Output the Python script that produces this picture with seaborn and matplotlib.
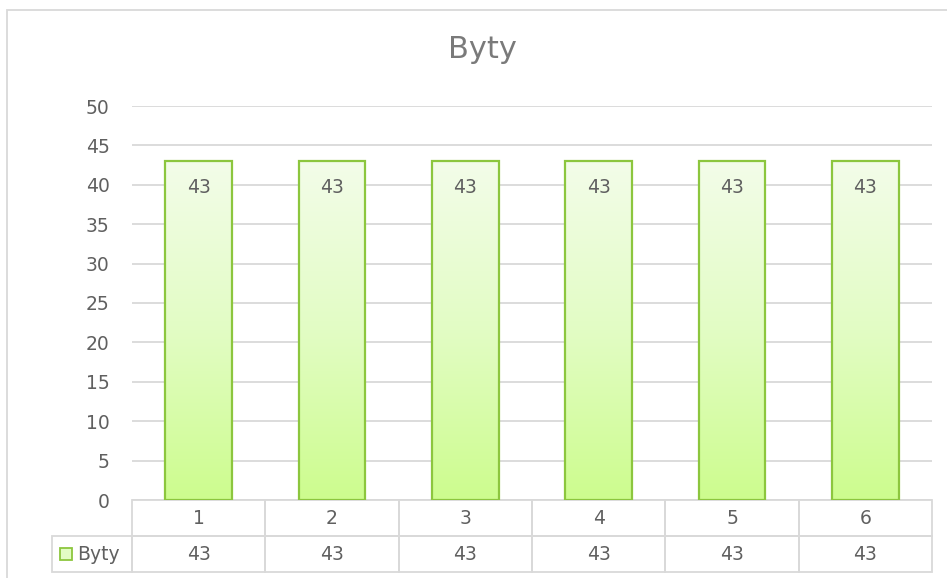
import numpy as np
import pandas as pd
import matplotlib
matplotlib.use("Agg")
import matplotlib.pyplot as plt
import seaborn as sns
from matplotlib.colors import LinearSegmentedColormap
from matplotlib.patches import Rectangle

# ─── Data ─────────────────────────────────────────────────────────────────────
categories = ["1", "2", "3", "4", "5", "6"]
values     = [43, 43, 43, 43, 43, 43]
series     = "Byty"
title      = "Byty"
yticks     = [0, 5, 10, 15, 20, 25, 30, 35, 40, 45, 50]

TEXT  = "#606060"
GRID  = "#d9d9d9"
EDGE  = "#8cc63e"
FONT  = "DejaVu Sans"

sns.set_theme(style="white")
plt.rcParams["font.family"] = [FONT]

W, H = 947, 578
fig = plt.figure(figsize=(W / 100, H / 100), dpi=100)
ax = fig.add_axes([132 / W, 1 - 500 / H, 800 / W, 394 / H])

df = pd.DataFrame({"cat": categories, "val": values})
sns.barplot(data=df, x="cat", y="val", color="#e2fcc4", width=0.5,
            edgecolor=EDGE, linewidth=1.6, ax=ax, zorder=3)

# gradient fill inside each bar
cmap = LinearSegmentedColormap.from_list("g", ["#cdfd8e", "#e2fcc4", "#f3fde9"])
grad = np.linspace(0, 1, 256).reshape(-1, 1)
for p in ax.patches:
    x0, w, h = p.get_x(), p.get_width(), p.get_height()
    im = ax.imshow(grad, cmap=cmap, origin="lower", aspect="auto",
                   extent=[x0, x0 + w, 0, h], zorder=3.5)
    im.set_clip_path(p)
    p.set_zorder(4)
    p.set_facecolor("none")

for i, v in enumerate(values):
    ax.annotate(f"{v}", (i, v), xytext=(0, -19), textcoords="offset points",
                ha="center", va="center", fontsize=13.5, color=TEXT, zorder=5)

ax.set_xlim(-0.5, len(categories) - 0.5)
ax.set_ylim(0, 50)
ax.set_yticks(yticks)
ax.set_yticklabels([str(t) for t in yticks], fontsize=13.5, color=TEXT)
ax.tick_params(axis="y", length=0, pad=16)
ax.set_xticks([])
ax.set_xlabel("")
ax.set_ylabel("")
for s in ax.spines.values():
    s.set_visible(False)
ax.yaxis.grid(True, color=GRID, linewidth=1.3)
ax.set_axisbelow(True)

fig.text(482 / W, 1 - 50 / H, title, ha="center", va="center",
         fontsize=22, color="#7a7a7a")

# ─── Data table below the plot ────────────────────────────────────────────────
tr = ax.transAxes
row_h = 36 / 394
lab_w = 80 / 800
n = len(categories)
cw = 1 / n
for i, (c, v) in enumerate(zip(categories, values)):
    for r, txt in enumerate([c, str(v)]):
        y0 = -(r + 1) * row_h
        ax.add_patch(Rectangle((i * cw, y0), cw, row_h, transform=tr,
                               fill=False, edgecolor=GRID, lw=1.3, clip_on=False))
        ax.text((i + 0.5) * cw, y0 + row_h / 2, txt, transform=tr, ha="center",
                va="center", fontsize=13.5, color=TEXT)
ax.add_patch(Rectangle((-lab_w, -2 * row_h), lab_w, row_h, transform=tr,
                       fill=False, edgecolor=GRID, lw=1.3, clip_on=False))
ax.add_patch(Rectangle((-lab_w + 8 / 800, -2 * row_h + 12 / 394), 12 / 800, 12 / 394,
                       transform=tr, facecolor="#e2fcc4", edgecolor=EDGE, lw=1.3,
                       clip_on=False))
ax.text(-lab_w + 25 / 800, -1.5 * row_h, series, transform=tr, ha="left",
        va="center", fontsize=13.5, color=TEXT)

# chart area border
fig.patches.append(Rectangle((7 / W, -0.1), 1.2, 1 - 10 / H + 0.1,
                             transform=fig.transFigure, fill=False,
                             edgecolor=GRID, lw=1.3))

fig.savefig("out.png", dpi=100)
